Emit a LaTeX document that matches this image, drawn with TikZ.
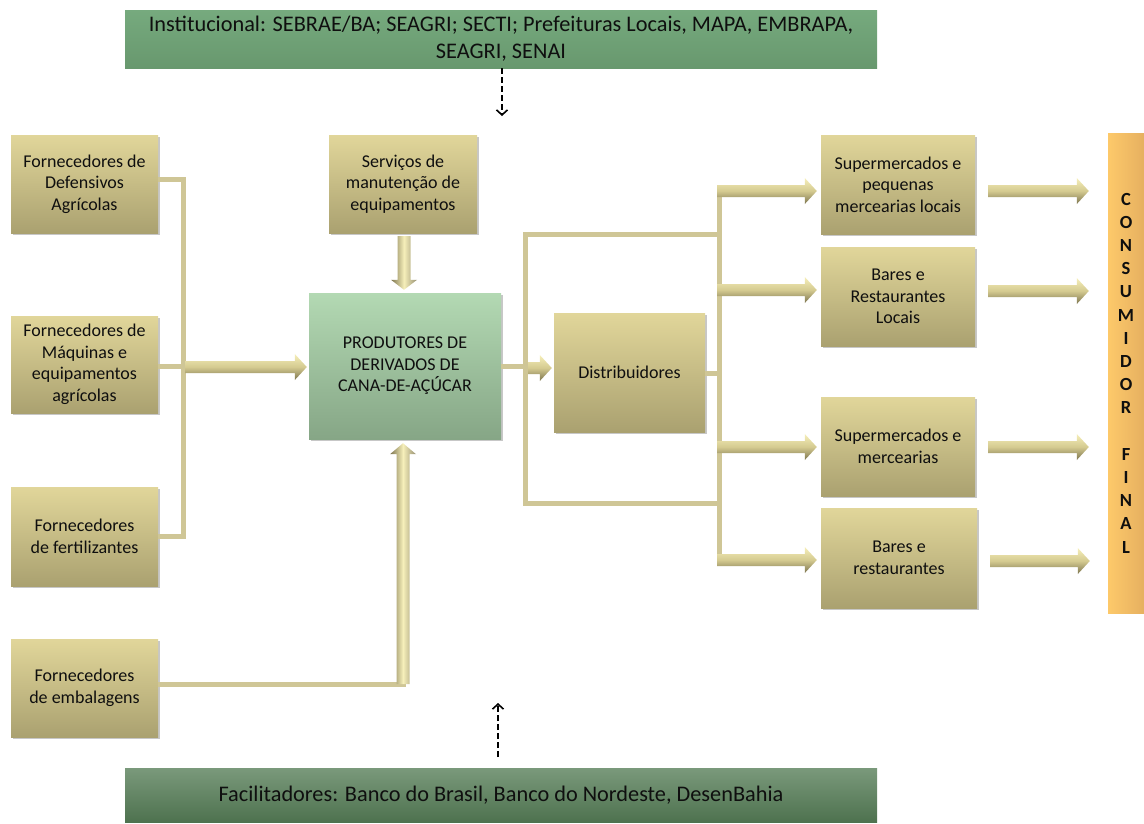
\documentclass[tikz,border=0pt]{standalone}
\usepackage{fontspec}
\setmainfont{Carlito}
\usetikzlibrary{calc,arrows.meta,shadows}
\definecolor{tanT}{RGB}{225,214,154}
\definecolor{tanB}{RGB}{170,161,112}
\definecolor{grnT}{RGB}{179,217,179}
\definecolor{grnB}{RGB}{134,166,134}
\definecolor{instT}{RGB}{118,170,126}
\definecolor{instB}{RGB}{104,152,110}
\definecolor{facT}{RGB}{122,153,123}
\definecolor{facB}{RGB}{78,114,79}
\definecolor{orL}{RGB}{253,201,106}
\definecolor{orR}{RGB}{230,176,96}
\definecolor{connC}{RGB}{207,198,150}
\definecolor{blkL}{RGB}{246,239,186}
\definecolor{blkM}{RGB}{212,202,144}
\definecolor{blkD}{RGB}{124,116,78}
\definecolor{txt}{RGB}{15,15,15}
\newcommand\harr[2]{\path[top color=blkL,bottom color=blkD,middle color=blkM]
  let \p1=(#1),\p2=(#2) in
  (\x1,\y1+6pt)--(\x2-14pt,\y1+6pt)--(\x2-14pt,\y1+13pt)--(\x2-2pt,\y1)
  --(\x2-14pt,\y1-13pt)--(\x2-14pt,\y1-6pt)--(\x1,\y1-6pt)--cycle;}
\newcommand\varrup[2]{\path[left color=blkD,right color=blkD!80,middle color=blkL]
  let \p1=(#1),\p2=(#2) in
  (\x1-6.5pt,\y1)--(\x1-6.5pt,\y2-15pt)--(\x1-13pt,\y2-15pt)--(\x1,\y2-4pt)
  --(\x1+13pt,\y2-15pt)--(\x1+6.5pt,\y2-15pt)--(\x1+6.5pt,\y1)--cycle;}
\newcommand\varrdn[2]{\path[left color=blkD,right color=blkD!80,middle color=blkL]
  let \p1=(#1),\p2=(#2) in
  (\x1-6.5pt,\y1)--(\x1-6.5pt,\y2+13pt)--(\x1-13pt,\y2+13pt)--(\x1,\y2+3pt)
  --(\x1+13pt,\y2+13pt)--(\x1+6.5pt,\y2+13pt)--(\x1+6.5pt,\y1)--cycle;}
\begin{document}
\begin{tikzpicture}[x=1pt,y=-1pt,
  box/.style={rectangle,top color=tanT,bottom color=tanB,draw=none,align=center,
    text=txt,font=\fontsize{18}{21.5}\selectfont,inner sep=0pt,
    drop shadow={shadow xshift=2pt,shadow yshift=-2pt,fill=black,opacity=0.22}},
  banner/.style={rectangle,draw=none,align=center,text=txt,
    font=\fontsize{22.3}{27}\selectfont,inner sep=0pt,minimum width=752pt},
  conn/.style={draw=connC,line width=5pt},
  dasharr/.style={draw=black,line width=2.2pt,dash pattern=on 6pt off 3pt,
    -{Straight Barb[length=5pt,width=11pt,line width=1.6pt]}}]
\useasboundingbox (0,0) rectangle (1144,823);

% banners
\node[banner,top color=instT,bottom color=instB,minimum height=58pt] (inst) at (501,39)
  {Institucional: SEBRAE/BA; SEAGRI; SECTI; Prefeituras Locais, MAPA, EMBRAPA,\\SEAGRI, SENAI};
\node[banner,top color=facT,bottom color=facB,minimum height=54pt] (fac) at (501,795)
  {Facilitadores: Banco do Brasil, Banco do Nordeste, DesenBahia};

% left boxes
\node[box,minimum width=147pt,minimum height=98pt] (def) at (84.5,184) {Fornecedores de\\Defensivos\\Agrícolas};
\node[box,minimum width=147pt,minimum height=97pt] (maq) at (84.5,364.5) {Fornecedores de\\Máquinas e\\equipamentos\\agrícolas};
\node[box,minimum width=147pt,minimum height=99pt] (fer) at (84.5,536.5) {Fornecedores\\de fertilizantes};
\node[box,minimum width=147pt,minimum height=98pt] (emb) at (84.5,688) {Fornecedores\\de embalagens};

% center
\node[box,minimum width=148pt,minimum height=98pt] (serv) at (403,184) {Serviços de\\manutenção de\\equipamentos};
\node[box,top color=grnT,bottom color=grnB,minimum width=192pt,minimum height=146pt] (prod) at (405,366)
  {\raisebox{-4pt}{\begin{tabular}{@{}c@{}}PRODUTORES DE\\DERIVADOS DE\\CANA-DE-AÇÚCAR\end{tabular}}};
\node[box,minimum width=151pt,minimum height=119pt] (dist) at (629.5,372.5) {Distribuidores};

% right boxes
\node[box,minimum width=154pt,minimum height=99pt] (sup1) at (898,184.5) {Supermercados e\\pequenas\\mercearias locais};
\node[box,minimum width=154pt,minimum height=99pt] (bar1) at (898,296.5) {Bares e\\Restaurantes\\Locais};
\node[box,minimum width=154pt,minimum height=99pt] (sup2) at (898,446.5) {Supermercados e\\mercearias};
\node[box,minimum width=156pt,minimum height=100pt] (bar2) at (899,558) {Bares e\\restaurantes};

% consumidor final
\node[rectangle,left color=orL,right color=orR,minimum width=36pt,minimum height=480pt,
  inner sep=0pt,align=center,text=txt,font=\bfseries\fontsize{18.5}{23.2}\selectfont] (cons) at (1126,373)
  {C\\O\\N\\S\\U\\M\\I\\D\\O\\R\\[23.2pt]F\\I\\N\\A\\L};

% left connectors
\coordinate (jt) at (183,179);
\coordinate (jm) at (183,366);
\coordinate (jb) at (183,536);
\draw[conn] (def.east |- jt) -- (jt) -- (jb) -- (fer.east |- jb);
\draw[conn] (maq.east |- jm) -- (jm);
\coordinate (a1) at (185,367);
\harr{a1}{prod.west}

% servicos down arrow
\coordinate (s0) at (404,236);
\varrdn{s0}{prod.north}

% embalagens
\coordinate (e1) at (403,684);
\draw[conn] (emb.east |- e1) -- ([xshift=3pt]e1);
\varrup{e1}{prod.south}

% produtores -> distribuidores
\coordinate (pd) at (525,366);
\draw[conn] (prod.east |- pd) -- (pd);
\coordinate (a2) at (527,368);
\harr{a2}{dist.west}

% bracket and spine
\coordinate (bt) at (525,234);
\coordinate (bb) at (525,503);
\draw[conn] (721,234) -- (bt) -- (bb) -- (721,503);
\coordinate (sp1) at (719,188);
\coordinate (sp2) at (719,563);
\draw[conn] (sp1) -- (sp2);
\coordinate (dj) at (719,373);
\draw[conn] (dist.east |- dj) -- (dj);

\coordinate (m1) at (717,191);
\coordinate (m2) at (717,290);
\coordinate (m3) at (717,447);
\coordinate (m4) at (717,560);
\harr{m1}{$(sup1.west)+(-2,0)$}
\harr{m2}{$(bar1.west)+(-2,0)$}
\harr{m3}{$(sup2.west)+(-2,0)$}
\harr{m4}{$(bar2.west)+(-2,0)$}

% to consumidor
\coordinate (r1) at (988,191);
\coordinate (r2) at (988,291);
\coordinate (r3) at (988,447);
\coordinate (r4) at (990,561);
\harr{r1}{$(cons.west)+(-17,0)$}
\harr{r2}{$(cons.west)+(-17,0)$}
\harr{r3}{$(cons.west)+(-17,0)$}
\harr{r4}{$(cons.west)+(-16,0)$}

% dashed arrows
\coordinate (dt) at (502,116);
\draw[dasharr] (inst.south -| dt) -- (dt);
\coordinate (db0) at (498,757);
\coordinate (db1) at (498,703);
\draw[dasharr] (db0) -- (db1);
\end{tikzpicture}
\end{document}
